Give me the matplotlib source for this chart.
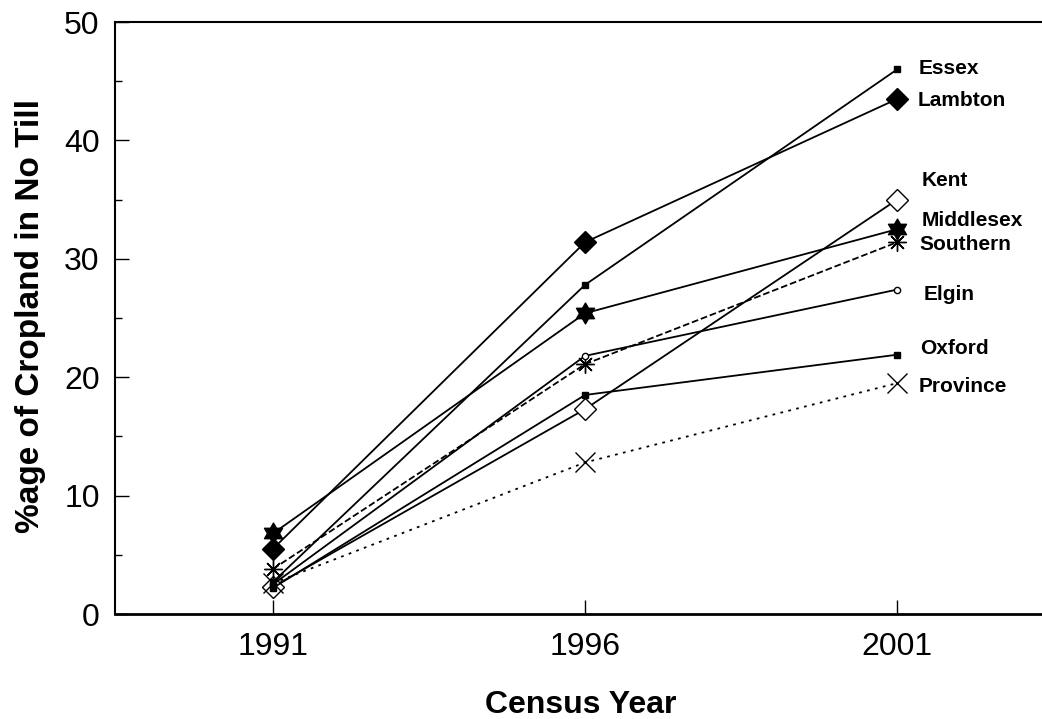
import matplotlib
matplotlib.use("Agg")
import numpy as np
import matplotlib.pyplot as plt
from matplotlib.path import Path
from matplotlib.ticker import MultipleLocator

plt.rcParams['font.family'] = ['Liberation Sans', 'DejaVu Sans']

# % of cropland in no-till, by county and census year
years = [1991, 1996, 2001]
essex = [2.7, 27.8, 46.0]
lambton = [5.5, 31.4, 43.5]
kent = [2.3, 17.3, 35.0]
middlesex = [6.8, 25.4, 32.5]
southern = [3.8, 21.1, 31.4]
elgin = [2.5, 21.8, 27.4]
oxford = [2.2, 18.5, 21.9]
province = [2.6, 12.8, 19.5]

names = ['Essex', 'Lambton', 'Kent', 'Middlesex', 'Southern',
         'Elgin', 'Oxford', 'Province']
series = [essex, lambton, kent, middlesex, southern, elgin, oxford, province]

# six-pointed star (two overlapping triangles)
ang = np.radians(90 + 30 * np.arange(12))
rad = np.where(np.arange(12) % 2 == 0, 1.0, 1 / np.sqrt(3))
verts = np.column_stack([rad * np.cos(ang), rad * np.sin(ang)])
hexagram = Path(np.vstack([verts, verts[:1]]), closed=True)

# marker / line style per series
styles = {
    'Essex':     dict(marker='s', ms=5, mfc='black', ls='-', z=4),
    'Lambton':   dict(marker='D', ms=11, mfc='black', ls='-', z=3),
    'Kent':      dict(marker='D', ms=11, mfc='white', ls='-', z=2),
    'Middlesex': dict(marker=hexagram, ms=15, mfc='black', ls='-', z=3),
    'Southern':  dict(marker=(8, 2, 0), ms=13, mfc='black', ls='--', z=3),
    'Elgin':     dict(marker='o', ms=4.5, mfc='white', ls='-', z=3),
    'Oxford':    dict(marker='s', ms=5, mfc='black', ls='-', z=4),
    'Province':  dict(marker='x', ms=15, mfc='black', ls=(0, (1.5, 3)), z=3),
}
# where the name labels sit next to the 2001 points
label_y = [46.1, 43.4, 36.6, 33.2, 31.2, 27.0, 22.4, 19.2]
label_x = [2001.35, 2001.33, 2001.39, 2001.39, 2001.36, 2001.43, 2001.37, 2001.34]

fig = plt.figure(figsize=(10.42, 7.19), dpi=100)
ax = fig.add_axes([115 / 1042, 105 / 719, 927 / 1042, 592 / 719])

for name, vals in zip(names, series):
    st = styles[name]
    ax.plot(years, vals, color='black', lw=1.3, linestyle=st['ls'],
            marker=st['marker'], markersize=st['ms'],
            markerfacecolor=st['mfc'], markeredgecolor='black',
            markeredgewidth=1.0, zorder=st['z'])

for name, lx, ly in zip(names, label_x, label_y):
    ax.text(lx, ly, name, fontsize=15, fontweight='bold',
            ha='left', va='center')

ax.set_xlim(1988.47, 2003.32)
ax.set_ylim(0, 50)
ax.set_xticks(years)
ax.yaxis.set_major_locator(MultipleLocator(10))
ax.yaxis.set_minor_locator(MultipleLocator(5))

ax.spines['right'].set_visible(False)
ax.spines['left'].set_linewidth(1.5)
ax.spines['top'].set_linewidth(1.5)
ax.spines['bottom'].set_linewidth(2.0)

ax.tick_params(axis='both', which='major', direction='in', length=10,
               width=1.0, labelsize=23)
ax.tick_params(axis='y', which='major', pad=11)
ax.tick_params(axis='x', which='major', pad=13)
ax.tick_params(axis='y', which='minor', direction='in', length=5, width=1.0)
ax.tick_params(axis='y', which='both', right=False)
ax.tick_params(axis='x', which='both', top=False)

ax.set_xlabel('Census Year', fontsize=23, fontweight='bold')
ax.set_ylabel('%age of Cropland in No Till', fontsize=24, fontweight='bold')
ax.xaxis.set_label_coords(0.502, -0.128)
ax.yaxis.set_label_coords(-0.0744, 0.503)

fig.savefig('out.png', dpi=100)
